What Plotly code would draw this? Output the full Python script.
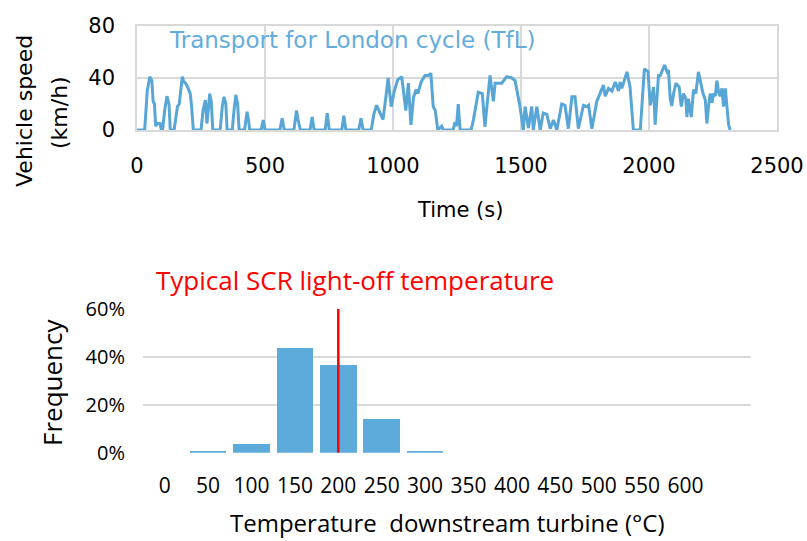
import plotly.graph_objects as go

# ---------------- data ----------------
time_s = [0, 30, 40, 50, 58, 63, 68, 73, 80, 90, 95, 100, 108, 117, 125, 130, 145, 158, 165, 177, 183, 190, 198, 208, 213, 220,
          250, 258, 267, 273, 278, 284, 290, 296, 325, 333, 340, 347, 352, 372, 379, 386, 393, 399, 420, 426, 430, 436, 440,
          485, 493, 500, 558, 567, 575, 613, 623, 628, 633, 638, 676, 684, 692, 735, 743, 751, 800, 808, 816, 866, 875, 883,
          915, 925, 936, 948, 961, 972, 981, 993, 1005, 1018, 1034, 1042, 1050, 1060, 1070, 1080, 1090, 1097, 1110, 1125, 1138,
          1148, 1157, 1165, 1175, 1190, 1197, 1235, 1242, 1248, 1255, 1262, 1305, 1314, 1333, 1349, 1359, 1379, 1392, 1399,
          1425, 1444, 1464, 1477, 1496, 1509, 1516, 1529, 1542, 1548, 1562, 1575, 1587, 1601, 1614, 1627, 1640, 1659, 1672,
          1685, 1699, 1711, 1724, 1744, 1757, 1764, 1777, 1796, 1822, 1829, 1842, 1855, 1868, 1881, 1887, 1894, 1914, 1926,
          1939, 1966, 1982, 1996, 2005, 2018, 2024, 2037, 2044, 2061, 2070, 2076, 2083, 2089, 2096, 2105, 2118, 2126, 2135,
          2144, 2148, 2154, 2165, 2174, 2183, 2193, 2203, 2211, 2220, 2226, 2233, 2239, 2246, 2252, 2259, 2265, 2272, 2278,
          2285, 2291, 2298, 2304, 2311, 2317]
speed_kmh = [0, 0, 30, 41, 38, 22, 20, 3, 5, 5, 0, 0, 15, 26, 20, 0, 0, 18, 20, 41, 37, 36, 33, 28, 19, 0,
             0, 15, 23, 5, 15, 28, 22, 0, 0, 18, 25.5, 20, 0, 0, 15, 27, 20, 0, 0, 10, 14, 7, 0,
             0, 7.7, 0, 0, 9, 0, 0, 15, 9, 5, 0, 0, 10, 0, 0, 13, 0, 0, 11, 0, 0, 9, 0,
             0, 12, 19, 14, 8, 25, 40, 18, 30, 38.5, 41, 28, 15, 36, 4, 25, 31, 28, 37, 42, 42,
             43.5, 18, 15, 0, 3, 0, 0, 6, 3, 20, 0, 0, 7.6, 29, 28, 2.5, 42, 22, 36,
             36, 41, 40, 38, 18, 0, 18, 1.5, 18, 0, 18, 0, 13, 12, 1, 7.7, 0, 20, 19,
             1, 25.5, 25.5, 1, 19, 18, 19, 1, 22, 34.5, 26, 32, 30, 37, 30, 37, 32, 44.7, 33,
             0, 0, 47, 45, 19, 33, 4, 42, 42, 50, 45, 46, 24, 18.5, 28, 36, 33, 18, 28,
             24, 10, 24, 10, 31, 28, 44.7, 36, 28, 23, 5, 19, 28, 21, 28, 26, 38, 29, 26,
             32, 18, 32, 20, 4, 0]

temp_bins = [0, 50, 100, 150, 200, 250, 300, 350, 400, 450, 500, 550, 600]
temp_labels = ["0", "50", "100", "150", "200", "250", "300", "350", "400", "450", "500", "550", "600"]
frequency = [0.0, 0.007, 0.036, 0.436, 0.367, 0.141, 0.007, 0, 0, 0, 0, 0, 0]
scr_lightoff = 200

speed_ticks = [0, 40, 80]
time_ticks = [0, 500, 1000, 1500, 2000, 2500]
freq_ticks = [0, 0.2, 0.4, 0.6]
freq_tick_labels = ["0%", "20%", "40%", "60%"]

# ---------------- styling ----------------
TOPFONT = "DejaVu Sans"
BOTFONT = "Open Sans"
BLUE = "rgb(88,166,214)"
GRID = "rgb(217,217,217)"
W, H = 807, 541

def px(x):
    return x / W

def py(y):
    return 1 - y / H

fig = go.Figure()

fig.add_trace(go.Scatter(x=time_s, y=speed_kmh, mode="lines",
                         line=dict(color=BLUE, width=3), xaxis="x", yaxis="y",
                         showlegend=False, hoverinfo="skip"))

fig.add_trace(go.Bar(x=temp_bins, y=frequency, width=42, marker=dict(color="rgb(93,171,219)", line=dict(width=0)),
                     xaxis="x2", yaxis="y2", showlegend=False))

fig.add_trace(go.Scatter(x=[scr_lightoff, scr_lightoff], y=[0, 0.61], mode="lines",
                         line=dict(color="rgb(255,0,0)", width=2.5), xaxis="x2", yaxis="y2",
                         showlegend=False, cliponaxis=False))

fig.update_layout(
    width=W, height=H,
    margin=dict(l=0, r=0, t=0, b=0, autoexpand=False),
    paper_bgcolor="white", plot_bgcolor="white",
    font=dict(family=BOTFONT, color="black"),
    xaxis=dict(domain=[px(137), px(777)], range=[0, 2500], tickvals=time_ticks, automargin=False,
               showgrid=True, gridcolor=GRID, gridwidth=1.5, zeroline=False,
               showline=True, linecolor=GRID, linewidth=1.5, mirror=True,
               ticks="outside", ticklen=16, tickcolor="rgba(0,0,0,0)",
               tickfont=dict(size=21, family=TOPFONT), anchor="y"),
    yaxis=dict(domain=[py(130), py(26)], range=[0, 80], tickvals=speed_ticks, automargin=False,
               showgrid=True, gridcolor=GRID, gridwidth=1.5, zeroline=False,
               showline=True, linecolor=GRID, linewidth=1.5, mirror=True,
               ticks="outside", ticklen=16, tickcolor="rgba(0,0,0,0)",
               tickfont=dict(size=21, family=TOPFONT), anchor="x"),
    xaxis2=dict(domain=[px(143), px(750.6)], range=[-25, 675], tickvals=temp_bins, ticktext=temp_labels,
                automargin=False, showgrid=False, zeroline=False, showline=False,
                ticks="outside", ticklen=14, tickcolor="rgba(0,0,0,0)",
                tickfont=dict(size=21, family=BOTFONT), anchor="y2"),
    yaxis2=dict(domain=[py(452.7), py(309)], range=[0, 0.6], tickvals=freq_ticks, ticktext=freq_tick_labels,
                automargin=False, showgrid=True, gridcolor=GRID, gridwidth=1.5, zeroline=False, showline=False,
                ticks="outside", ticklen=13, tickcolor="rgba(0,0,0,0)",
                tickfont=dict(size=20, family=BOTFONT), anchor="x2"),
    bargap=0,
)

ann = [
    dict(text="Transport for London cycle (TfL)", x=px(167), y=py(40), xanchor="left", yanchor="middle",
         font=dict(size=23, color="rgb(100,172,220)", family=TOPFONT)),
    dict(text="Vehicle speed", x=px(25), y=py(111), textangle=-90, xanchor="center", yanchor="middle",
         font=dict(size=22, family=TOPFONT)),
    dict(text="(km/h)", x=px(60), y=py(113), textangle=-90, xanchor="center", yanchor="middle",
         font=dict(size=22, family=TOPFONT)),
    dict(text="Time (s)", x=px(460), y=py(210), xanchor="center", yanchor="middle",
         font=dict(size=21, family=TOPFONT)),
    dict(text="Typical SCR light-off temperature", x=px(355), y=py(280), xanchor="center", yanchor="middle",
         font=dict(size=26, color="rgb(255,0,0)", family=BOTFONT)),
    dict(text="Frequency", x=px(52), y=py(382), textangle=-90, xanchor="center", yanchor="middle",
         font=dict(size=26, family=BOTFONT)),
    dict(text="Temperature  downstream turbine (°C)", x=px(447), y=py(522), xanchor="center", yanchor="middle",
         font=dict(size=24, family=BOTFONT)),
]
for a in ann:
    a.update(xref="paper", yref="paper", showarrow=False)
fig.update_layout(annotations=ann)

fig.write_html("out.html")
